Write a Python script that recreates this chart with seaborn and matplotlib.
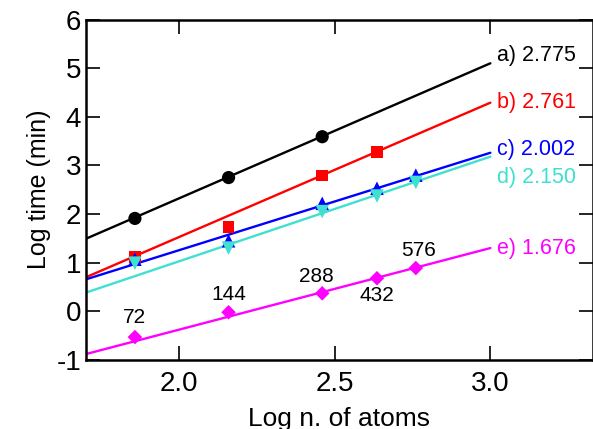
import numpy as np
import pandas as pd
import matplotlib
matplotlib.use("Agg")
import matplotlib.pyplot as plt
import seaborn as sns

# number of atoms and log10 of them
atoms = [72, 144, 288, 432, 576]
log_atoms = np.log10(atoms)

time_a = [1.91, 2.75, 3.59]
time_b = [1.12, 1.73, 2.79, 3.27]
time_c = [1.07, 1.45, 2.22, 2.53, 2.80]
time_d = [0.99, 1.30, 2.05, 2.37, 2.65]
time_e = [-0.53, -0.02, 0.37, 0.68, 0.89]

# fitted lines: slope and intercept
names = ["a", "b", "c", "d", "e"]
slopes = [2.775, 2.761, 2.002, 2.150, 1.676]
intercepts = [-3.225, -3.993, -2.746, -3.27, -3.728]
fit_range = [1.7, 3.0]

colors = ["black", "#ff0000", "#0000ff", "#40e0d0", "#ff00ff"]
markers = ["o", "s", "^", "v", "D"]
msizes = [90, 70, 95, 95, 55]
# vertical shift of slope label relative to line end
label_dy = [0.17, 0.0, 0.06, -0.42, 0.0]

sns.set_theme(style="ticks")
plt.rcParams["font.family"] = ["Liberation Sans", "DejaVu Sans"]
plt.rcParams["axes.unicode_minus"] = False

fig = plt.figure(figsize=(5.93, 4.29), dpi=100)
ax = fig.add_axes([0.145, 0.161, 0.855, 0.7935])

series = [time_a, time_b, time_c, time_d, time_e]
for i, ys in enumerate(series):
    xs = log_atoms[:len(ys)]
    fx = np.array(fit_range)
    fy = slopes[i] * fx + intercepts[i]
    sns.lineplot(x=fx, y=fy, color=colors[i], lw=1.7, ax=ax, zorder=2)
    sns.scatterplot(x=xs, y=ys, color=colors[i], marker=markers[i], s=msizes[i],
                    edgecolor="none", ax=ax, zorder=3)
    # slope labels at line end
    ax.text(fit_range[1] + 0.02, fy[-1] + label_dy[i], f"{names[i]}) {slopes[i]:.3f}",
            color=colors[i], fontsize=15.5, ha="left", va="center")

# atom count labels near the e) points
offsets = [(0, 0.40), (0, 0.36), (-0.02, 0.34), (0, -0.35), (0.01, 0.37)]
for j, n in enumerate(atoms):
    dx, dy = offsets[j]
    ax.text(log_atoms[j] + dx, time_e[j] + dy, str(n), fontsize=15,
            ha="center", va="center", color="black")

ax.set_xlim(1.7, 3.33)
ax.set_ylim(-1, 6)
ax.set_xticks([2.0, 2.5, 3.0])
ax.set_xticklabels(["2.0", "2.5", "3.0"])
ax.set_yticks(range(-1, 7))
ax.tick_params(direction="in", length=10, width=1.2, top=True, right=True,
               labelsize=20, color="black", labelcolor="black")
ax.tick_params(axis="x", pad=8)
for sp in ax.spines.values():
    sp.set_linewidth(1.8)
    sp.set_color("black")
ax.set_xlabel("Log n. of atoms", fontsize=19, color="black", labelpad=7)
ax.set_ylabel("Log time (min)", fontsize=18, color="black", labelpad=4)

fig.savefig("out.png", dpi=100)
